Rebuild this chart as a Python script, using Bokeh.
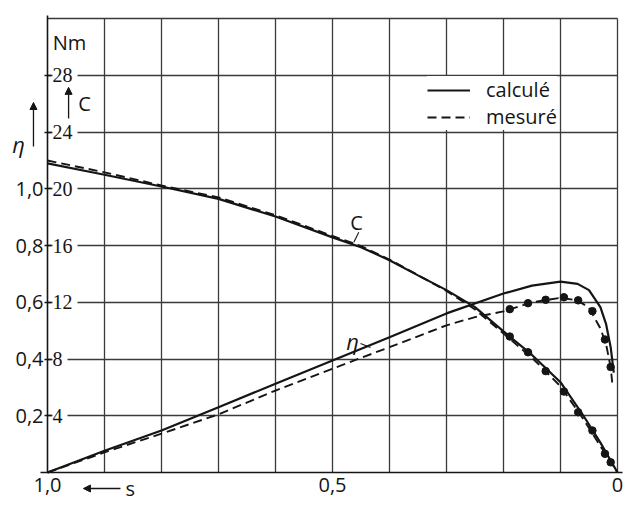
from bokeh.plotting import figure
from bokeh.models import (Range1d, FixedTicker, LabelSet, ColumnDataSource, Label,
                          Arrow, NormalHead, Legend, LegendItem, Grid)
from bokeh.embed import file_html
from bokeh.resources import INLINE

FONT = "Open Sans"
FS = "20px"
INK = "#151515"
GRID = "#3a3a3a"

# ---- data -------------------------------------------------------------
# torque C (Nm) versus slip s
s_C_calc = [1.0, 0.9, 0.8, 0.7, 0.6, 0.5, 0.45, 0.4, 0.35, 0.3, 0.25, 0.2, 0.15, 0.1, 0.06, 0.03, 0.0]
C_calc = [21.8, 21.0, 20.17, 19.3, 18.05, 16.58, 15.89, 14.97, 13.9, 12.86, 11.66, 9.95, 8.29, 6.37, 4.02, 2.11, 0.0]
s_C_meas = [1.0, 0.9, 0.8, 0.7, 0.6, 0.5, 0.45, 0.4, 0.35, 0.3, 0.25, 0.2, 0.15, 0.1, 0.06, 0.03, 0.0]
C_meas = [22.0, 21.17, 20.24, 19.4, 18.14, 16.68, 15.97, 15.02, 13.92, 12.81, 11.5, 9.8, 8.09, 6.08, 3.77, 1.86, 0.0]

# efficiency eta versus slip s
s_eta_calc = [1.0, 0.9, 0.8, 0.7, 0.6, 0.5, 0.4, 0.3, 0.2, 0.15, 0.1, 0.07, 0.05, 0.03, 0.02, 0.012, 0.0065]
eta_calc = [0.0, 0.077, 0.148, 0.23, 0.313, 0.395, 0.477, 0.561, 0.631, 0.659, 0.673, 0.665, 0.643, 0.583, 0.523, 0.442, 0.352]
s_eta_meas = [1.0, 0.9, 0.8, 0.7, 0.6, 0.5, 0.4, 0.3, 0.25, 0.2, 0.15, 0.1, 0.07, 0.05, 0.03, 0.02, 0.012, 0.009]
eta_meas = [0.0, 0.071, 0.137, 0.205, 0.289, 0.366, 0.442, 0.519, 0.548, 0.568, 0.6, 0.616, 0.607, 0.581, 0.508, 0.452, 0.372, 0.312]

# measured points
s_pts = [0.189, 0.157, 0.126, 0.094, 0.069, 0.044, 0.022, 0.012]
eta_pts = [0.576, 0.597, 0.609, 0.618, 0.607, 0.569, 0.469, 0.372]
C_pts = [9.59, 8.48, 7.15, 5.71, 4.25, 2.96, 1.32, 0.72]

# ticks
eta_ticks = [0.2, 0.4, 0.6, 0.8, 1.0, 1.2, 1.4]
eta_tick_labels = ["0,2", "0,4", "0,6", "0,8", "1,0", "", ""]
C_ticks = [4, 8, 12, 16, 20, 24, 28]
C_tick_labels = ["4 ", "8 ", "12 ", "16 ", "20 ", "24 ", "28 "]
s_ticks = [1.0, 0.5, 0.0]
s_tick_labels = ["1,0", "0,5", "0"]
s_grid = [0.0, 0.1, 0.2, 0.3, 0.4, 0.5, 0.6, 0.7, 0.8, 0.9]
eta_grid = [0.2, 0.4, 0.6, 0.8, 1.0, 1.2, 1.4, 1.6]

# ---- figure: the frame fills the canvas, axes sit at fixed locations ------
W, H = 627, 504
PX_S, PX_ETA = 570.0, 283.6          # pixels per unit of s and of eta
X0, Y0 = 47.0, 472.0                 # canvas position of s = 1, eta = 0
x_range = Range1d(1.0 + X0 / PX_S, 1.0 - (W - X0) / PX_S)
y_range = Range1d(-(H - Y0) / PX_ETA, Y0 / PX_ETA)

p = figure(frame_width=W, frame_height=H, x_range=x_range, y_range=y_range,
           output_backend="svg", toolbar_location=None,
           min_border_left=0, min_border_right=0, min_border_top=0, min_border_bottom=0)
p.extra_y_ranges = {"C": Range1d(y_range.start * 20, y_range.end * 20)}
p.outline_line_color = None
p.background_fill_color = "white"
p.border_fill_color = "white"

xg, yg = p.xgrid[0], p.ygrid[0]
xg.ticker = FixedTicker(ticks=s_grid)
yg.ticker = FixedTicker(ticks=eta_grid)
if "cross_bounds" in Grid.properties():
    xg.cross_bounds = (0.0, 1.6)
    yg.cross_bounds = (0.0, 1.0)
    for g in (xg, yg):
        g.grid_line_color = GRID
        g.grid_line_width = 1.3
else:
    xg.visible = False
    yg.visible = False
    p.segment(x0=s_grid, y0=[0.0] * len(s_grid), x1=s_grid, y1=[1.6] * len(s_grid),
              line_color=GRID, line_width=1.3, level="underlay")
    p.segment(x0=[1.0] * len(eta_grid), y0=eta_grid, x1=[0.0] * len(eta_grid), y1=eta_grid,
              line_color=GRID, line_width=1.3, level="underlay")

xa = p.xaxis[0]
xa.fixed_location = 0.0
xa.bounds = (-0.009, 1.012)
xa.ticker = FixedTicker(ticks=s_ticks)
xa.major_label_overrides = dict(zip(s_ticks, s_tick_labels))
xa.major_tick_in = 0
xa.major_tick_out = 0
xa.minor_tick_line_color = None
xa.axis_line_color = INK
xa.axis_line_width = 1.6
xa.major_label_standoff = 5
xa.major_label_text_font = FONT
xa.major_label_text_font_size = FS
xa.major_label_text_color = INK

ya = p.yaxis[0]
ya.fixed_location = 1.0
ya.bounds = (0.0, 1.612)
ya.ticker = FixedTicker(ticks=eta_ticks)
ya.major_label_overrides = dict(zip(eta_ticks, eta_tick_labels))
ya.major_tick_in = 4
ya.major_tick_out = 3
ya.major_tick_line_color = INK
ya.major_tick_line_width = 1.3
ya.minor_tick_line_color = None
ya.axis_line_color = INK
ya.axis_line_width = 1.6
ya.major_label_standoff = 1
ya.major_label_text_font = FONT
ya.major_label_text_font_size = FS
ya.major_label_text_color = INK

# torque scale labels just right of the axis, masking the grid behind them
csrc = ColumnDataSource(dict(x=[1.0] * len(C_ticks), y=C_ticks, t=C_tick_labels))
p.add_layout(LabelSet(x="x", y="y", text="t", source=csrc, y_range_name="C",
                      x_offset=5, text_baseline="middle", text_align="left",
                      text_font=FONT, text_font_size=FS, text_color=INK,
                      background_fill_color="white"))

# ---- curves --------------------------------------------------------------
rC = p.line(s_C_calc, C_calc, y_range_name="C", line_color=INK, line_width=2.2)
rCm = p.line(s_C_meas, C_meas, y_range_name="C", line_color=INK, line_width=1.9,
             line_dash="9 5")
p.line(s_eta_calc, eta_calc, line_color=INK, line_width=2.2)
p.line(s_eta_meas, eta_meas, line_color=INK, line_width=1.9, line_dash="9 5")
p.scatter(s_pts, eta_pts, size=7.5, marker="circle", color=INK)
p.scatter(s_pts, C_pts, size=7.5, marker="circle", color=INK, y_range_name="C")

# ---- legend --------------------------------------------------------------
leg = Legend(items=[LegendItem(label="calculé", renderers=[rC]),
                    LegendItem(label="mesuré", renderers=[rCm])],
             location=(427, 374), background_fill_color="white", background_fill_alpha=1.0,
             border_line_color=None, glyph_width=43, glyph_height=22, label_height=22,
             label_standoff=16, padding=7, spacing=0, margin=0,
             label_text_font=FONT, label_text_font_size=FS, label_text_color=INK)
p.add_layout(leg)

# ---- annotations ---------------------------------------------------------
def lab(x, y, text, align="left", style="normal", size=FS):
    p.add_layout(Label(x=x, y=y, text=text, text_align=align, text_baseline="middle",
                       text_font=FONT, text_font_size=size, text_color=INK,
                       text_font_style=style))

lab(0.991, 1.516, "Nm")
lab(0.946, 1.301, "C")
lab(1.0509, 1.160, "η", align="center", style="italic", size="22px")
lab(0.458, 0.8815, "C", align="center")
lab(0.4649, 0.4654, "η", align="center", style="italic", size="22px")
lab(0.863, -0.0564, "s")

head = dict(size=7, fill_color=INK, line_color=INK)
p.add_layout(Arrow(end=NormalHead(**head), x_start=0.963, y_start=1.248,
                   x_end=0.963, y_end=1.358, line_color=INK, line_width=1.3))
p.add_layout(Arrow(end=NormalHead(**head), x_start=1.0246, y_start=1.1495,
                   x_end=1.0246, y_end=1.3047, line_color=INK, line_width=1.3))
p.add_layout(Arrow(end=NormalHead(**head), x_start=0.872, y_start=-0.0564,
                   x_end=0.937, y_end=-0.0564, line_color=INK, line_width=1.3))
# leader strokes of the curve names
p.add_layout(Arrow(end=None, x_start=0.4539, y_start=0.8473, x_end=0.4626, y_end=0.8121,
                   line_color=INK, line_width=1.1))
p.add_layout(Arrow(end=None, x_start=0.4509, y_start=0.4549, x_end=0.4333, y_end=0.4408,
                   line_color=INK, line_width=1.1))

open("out.html", "w").write(file_html(p, INLINE))
